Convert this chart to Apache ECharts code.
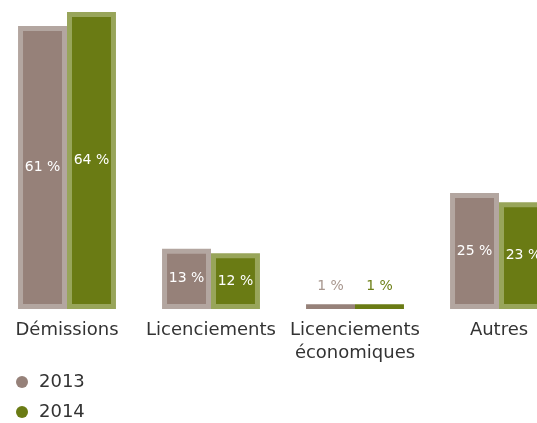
<!DOCTYPE html>
<html>
<head>
<meta charset="utf-8">
<script src="https://cdn.jsdelivr.net/npm/echarts@6/dist/echarts.min.js"></script>
<style>
  html, body { margin: 0; padding: 0; background: #ffffff; overflow: hidden; }
  #wrap { position: relative; width: 537px; height: 423px; overflow: hidden; }
  /* the plot is wider than the page: the last bar runs off the right edge */
  #chart { position: absolute; left: -5px; top: 0; width: 580px; height: 423px; }
</style>
</head>
<body>
<div id="wrap"><div id="chart"></div></div>
<script>
// Reasons for leaving, share of departures per year
const categories = ['Démissions', 'Licenciements', 'Licenciements\néconomiques', 'Autres'];
const years = ['2013', '2014'];
const values2013 = [61, 13, 1, 25];
const values2014 = [64, 12, 1, 23];

const FONT = '"DejaVu Sans", sans-serif';
const palette = {
  '2013': { fill: '#968179', edge: '#b3a6a0', text: '#a8978f' },
  '2014': { fill: '#6a7b14', edge: '#98a55a', text: '#6e8019' }
};

// Bar with a lighter frame; very short bars are drawn solid with the label above
function framedBar(side, colors) {
  return function (params, api) {
    const cat = api.value(0);
    const val = api.value(1);
    const base = api.coord([cat, 0]);
    const top = api.coord([cat, val]);
    const band = api.size([1, 0])[0];
    const w = band * 0.34;
    const x = side < 0 ? base[0] - w : base[0];
    const h = base[1] - top[1];
    const label = val + ' %';
    const inset = 5;
    if (h < inset * 2 + 2) {
      return {
        type: 'group',
        children: [
          { type: 'rect', shape: { x: x, y: top[1], width: w, height: h }, style: { fill: colors.fill } },
          { type: 'text', style: { text: label, x: x + w / 2, y: top[1] - 18, align: 'center', verticalAlign: 'middle', fill: colors.text, font: '14px ' + FONT } }
        ]
      };
    }
    return {
      type: 'group',
      children: [
        { type: 'rect', shape: { x: x, y: top[1], width: w, height: h }, style: { fill: colors.edge } },
        { type: 'rect', shape: { x: x + inset, y: top[1] + inset, width: w - 2 * inset, height: h - 2 * inset }, style: { fill: colors.fill } },
        { type: 'text', style: { text: label, x: x + w / 2, y: top[1] + h / 2, align: 'center', verticalAlign: 'middle', fill: '#ffffff', font: '14px ' + FONT } }
      ]
    };
  };
}

const chart = echarts.init(document.getElementById('chart'), null, { renderer: 'canvas' });

chart.setOption({
  backgroundColor: '#ffffff',
  animation: false,
  textStyle: { fontFamily: FONT },
  grid: { left: 0, width: 576, top: 12, bottom: 114, containLabel: false },
  xAxis: {
    type: 'category',
    data: categories,
    axisLine: { show: false },
    axisTick: { show: false },
    axisLabel: {
      interval: 0,
      margin: 10,
      color: '#333333',
      fontFamily: FONT,
      fontSize: 18,
      lineHeight: 23
    }
  },
  yAxis: {
    type: 'value',
    min: 0,
    max: 64,
    show: false,
    splitLine: { show: false }
  },
  legend: {
    data: years,
    orient: 'vertical',
    left: 21,
    top: 373,
    padding: 0,
    icon: 'circle',
    itemWidth: 24,
    itemHeight: 12,
    itemGap: 12,
    textStyle: { color: '#333333', fontFamily: FONT, fontSize: 18, lineHeight: 18 }
  },
  series: [
    {
      name: years[0],
      type: 'custom',
      itemStyle: { color: palette['2013'].fill },
      encode: { x: 0, y: 1 },
      data: values2013.map((v, i) => [i, v]),
      renderItem: framedBar(-1, palette['2013'])
    },
    {
      name: years[1],
      type: 'custom',
      itemStyle: { color: palette['2014'].fill },
      encode: { x: 0, y: 1 },
      data: values2014.map((v, i) => [i, v]),
      renderItem: framedBar(1, palette['2014'])
    }
  ]
});
</script>
</body>
</html>
